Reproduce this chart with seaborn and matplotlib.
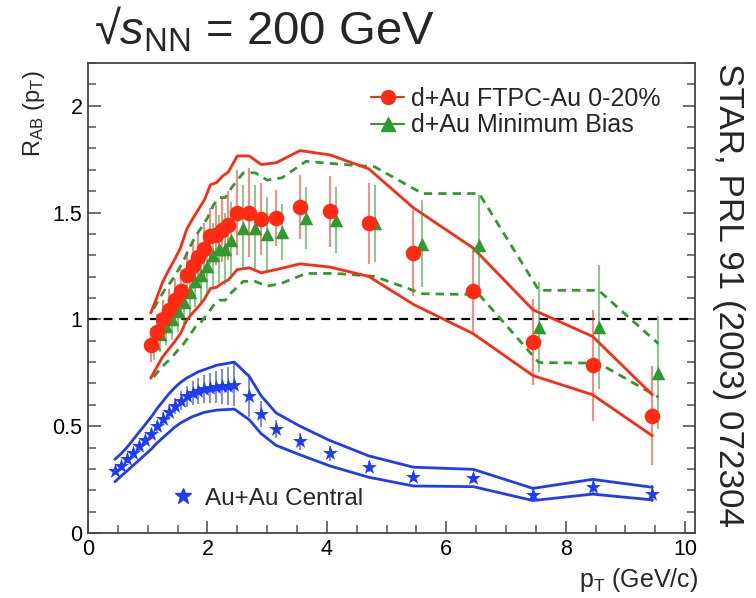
import numpy as np
import pandas as pd
import matplotlib
matplotlib.use("Agg")
import matplotlib.pyplot as plt
from matplotlib.lines import Line2D
from matplotlib.ticker import MultipleLocator, FuncFormatter
import seaborn as sns

# ---- d+Au FTPC-Au 0-20% central ----
dau_c_pt = [1.05, 1.15, 1.25, 1.35, 1.45, 1.55, 1.65, 1.75, 1.85, 1.95, 2.05, 2.15, 2.25,
            2.35, 2.5, 2.7, 2.9, 3.15, 3.55, 4.05, 4.7, 5.45, 6.45, 7.45, 8.45, 9.45]
dau_c_r = [0.88, 0.94, 1.00, 1.045, 1.09, 1.135, 1.21, 1.25, 1.29, 1.33, 1.39, 1.395, 1.42,
           1.44, 1.50, 1.50, 1.47, 1.475, 1.525, 1.505, 1.45, 1.31, 1.135, 0.895, 0.785, 0.55]
dau_c_err = [0.08, 0.085, 0.09, 0.095, 0.10, 0.10, 0.11, 0.11, 0.12, 0.12, 0.13, 0.14, 0.15,
             0.16, 0.20, 0.21, 0.17, 0.13, 0.15, 0.165, 0.19, 0.20, 0.20, 0.20, 0.26, 0.23]
dau_c_hi = [1.03, 1.10, 1.175, 1.23, 1.28, 1.335, 1.42, 1.47, 1.515, 1.56, 1.63, 1.64, 1.67,
            1.69, 1.765, 1.765, 1.725, 1.733, 1.79, 1.77, 1.705, 1.522, 1.334, 1.045, 0.92, 0.647]
dau_c_lo = [0.725, 0.775, 0.825, 0.86, 0.895, 0.935, 0.995, 1.03, 1.06, 1.095, 1.145, 1.15, 1.17,
            1.185, 1.233, 1.241, 1.218, 1.233, 1.26, 1.245, 1.201, 1.07, 0.933, 0.737, 0.647, 0.455]

# ---- d+Au minimum bias ----
dau_mb_pt = [1.1, 1.2, 1.3, 1.4, 1.5, 1.6, 1.7, 1.8, 1.9, 2.0, 2.1, 2.2, 2.3,
             2.4, 2.6, 2.8, 3.0, 3.25, 3.65, 4.15, 4.8, 5.6, 6.55, 7.55, 8.55, 9.55]
dau_mb_r = [0.89, 0.93, 0.97, 1.0, 1.04, 1.08, 1.13, 1.18, 1.21, 1.25, 1.30, 1.33, 1.33,
            1.37, 1.43, 1.43, 1.40, 1.41, 1.475, 1.465, 1.45, 1.355, 1.35, 0.965, 0.965, 0.75]
dau_mb_err = [0.08, 0.085, 0.09, 0.095, 0.10, 0.11, 0.11, 0.12, 0.13, 0.14, 0.15, 0.16, 0.17,
              0.18, 0.20, 0.20, 0.175, 0.13, 0.145, 0.155, 0.18, 0.205, 0.23, 0.21, 0.29, 0.265]
dau_mb_hi = [1.05, 1.10, 1.145, 1.18, 1.225, 1.275, 1.335, 1.39, 1.43, 1.475, 1.535, 1.57, 1.57,
             1.615, 1.686, 1.686, 1.652, 1.663, 1.74, 1.728, 1.714, 1.589, 1.589, 1.136, 1.136, 0.886]
dau_mb_lo = [0.73, 0.765, 0.795, 0.82, 0.855, 0.885, 0.925, 0.965, 0.99, 1.025, 1.065, 1.09, 1.09,
             1.125, 1.178, 1.178, 1.155, 1.17, 1.215, 1.215, 1.201, 1.12, 1.116, 0.798, 0.795, 0.636]

# ---- Au+Au central ----
auau_pt = [0.45, 0.55, 0.65, 0.75, 0.85, 0.95, 1.05, 1.15, 1.25, 1.35, 1.45, 1.55, 1.65, 1.75,
           1.85, 1.95, 2.05, 2.15, 2.25, 2.35, 2.45, 2.7, 2.9, 3.15, 3.55, 4.05, 4.7, 5.45,
           6.45, 7.45, 8.45, 9.45]
auau_r = [0.29, 0.315, 0.345, 0.375, 0.405, 0.435, 0.465, 0.50, 0.535, 0.565, 0.595, 0.62, 0.64,
          0.655, 0.665, 0.673, 0.678, 0.683, 0.686, 0.688, 0.694, 0.642, 0.558, 0.486, 0.43,
          0.373, 0.311, 0.264, 0.256, 0.178, 0.217, 0.183]
auau_err = [0.012, 0.013, 0.015, 0.017, 0.019, 0.021, 0.023, 0.026, 0.03, 0.034, 0.038, 0.043,
            0.05, 0.055, 0.06, 0.065, 0.07, 0.075, 0.08, 0.09, 0.10, 0.10, 0.06, 0.043, 0.04,
            0.035, 0.025, 0.02, 0.02, 0.025, 0.04, 0.04]
auau_hi = [0.345, 0.37, 0.40, 0.435, 0.47, 0.505, 0.54, 0.58, 0.615, 0.65, 0.68, 0.705, 0.725,
           0.74, 0.755, 0.765, 0.775, 0.785, 0.79, 0.795, 0.80, 0.733, 0.642, 0.562, 0.50,
           0.433, 0.361, 0.308, 0.298, 0.209, 0.251, 0.214]
auau_lo = [0.24, 0.265, 0.29, 0.315, 0.34, 0.365, 0.39, 0.42, 0.445, 0.47, 0.495, 0.515, 0.53,
           0.545, 0.555, 0.565, 0.57, 0.575, 0.577, 0.578, 0.58, 0.53, 0.465, 0.41, 0.366,
           0.314, 0.261, 0.22, 0.217, 0.152, 0.182, 0.155]

RED = "#ff2a12"
GREEN = "#2f9a2f"
BLUE = "#1f3cf5"

sns.set_theme(style="ticks")
plt.rcParams["font.family"] = ["Liberation Sans", "DejaVu Sans"]
plt.rcParams["mathtext.fontset"] = "custom"
plt.rcParams["mathtext.rm"] = "Liberation Sans"
plt.rcParams["mathtext.it"] = "Liberation Sans:italic"

fig = plt.figure(figsize=(7.56, 5.98), dpi=100)
ax = fig.add_axes([0.1164, 0.1087, 0.8026, 0.7859])

central = pd.DataFrame({"pt": dau_c_pt, "r": dau_c_r, "err": dau_c_err,
                        "hi": dau_c_hi, "lo": dau_c_lo})
minbias = pd.DataFrame({"pt": dau_mb_pt, "r": dau_mb_r, "err": dau_mb_err,
                        "hi": dau_mb_hi, "lo": dau_mb_lo})
auau = pd.DataFrame({"pt": auau_pt, "r": auau_r, "err": auau_err,
                     "hi": auau_hi, "lo": auau_lo})

# unity reference
ax.axhline(1.0, color="black", lw=1.6, ls=(0, (4, 3)), zorder=1)

# systematic bands
for col in ("hi", "lo"):
    sns.lineplot(data=auau, x="pt", y=col, ax=ax, color=BLUE, lw=2.0,
                 estimator=None, legend=False, zorder=2)
    sns.lineplot(data=minbias, x="pt", y=col, ax=ax, color=GREEN, lw=2.0,
                 estimator=None, legend=False, zorder=2)
    sns.lineplot(data=central, x="pt", y=col, ax=ax, color=RED, lw=2.0,
                 estimator=None, legend=False, zorder=3)
for ln in ax.lines:
    if ln.get_color() == GREEN:
        ln.set_linestyle((0, (3, 2.2)))

# statistical error bars
ax.errorbar(auau["pt"], auau["r"], yerr=auau["err"], fmt="none", ecolor=BLUE,
            elinewidth=1.2, alpha=0.7, zorder=4)
ax.errorbar(central["pt"], central["r"], yerr=central["err"], fmt="none", ecolor=RED,
            elinewidth=1.3, alpha=0.6, zorder=4)
ax.errorbar(minbias["pt"], minbias["r"], yerr=minbias["err"], fmt="none", ecolor=GREEN,
            elinewidth=1.3, alpha=0.6, zorder=4)

# data points
sns.scatterplot(data=auau, x="pt", y="r", ax=ax, marker="*", s=130, color=BLUE,
                edgecolor=BLUE, linewidth=0, zorder=5)
sns.scatterplot(data=minbias, x="pt", y="r", ax=ax, marker="^", s=95, color=GREEN,
                edgecolor=GREEN, linewidth=0, zorder=5)
sns.scatterplot(data=central, x="pt", y="r", ax=ax, marker="o", s=125, color=RED,
                edgecolor=RED, linewidth=0, zorder=6)

ax.set_xlim(0, 10.16)
ax.set_ylim(0, 2.2)
ax.xaxis.set_major_locator(MultipleLocator(2))
ax.xaxis.set_minor_locator(MultipleLocator(0.5))
ax.yaxis.set_major_locator(MultipleLocator(0.5))
ax.yaxis.set_minor_locator(MultipleLocator(0.1))
ax.yaxis.set_major_formatter(FuncFormatter(lambda v, p: f"{v:g}"))
ax.xaxis.set_major_formatter(FuncFormatter(lambda v, p: f"{v:g}"))
ax.tick_params(which="both", direction="in", left=True, right=True, top=False,
               bottom=True, labelsize=15.5, colors="#555555", labelcolor="black")
ax.tick_params(which="major", length=9, width=1.2, pad=4)
ax.tick_params(which="minor", length=6, width=1.1)
for sp in ax.spines.values():
    sp.set_visible(True)
    sp.set_linewidth(1.3)
    sp.set_color("#444444")

ax.set_xlabel(r"p$_{\mathrm{T}}$ (GeV/c)", fontsize=18, loc="right")
ax.set_ylabel(r"R$_{\mathrm{AB}}$ (p$_{\mathrm{T}}$)", fontsize=17, loc="top")
ax.xaxis.set_label_coords(1.005, -0.07)
ax.yaxis.set_label_coords(-0.068, 0.985)

# legends
h_c = Line2D([], [], color=RED, marker="o", markersize=10, lw=1.5)
h_mb = Line2D([], [], color=GREEN, marker="^", markersize=10, lw=1.5)
leg1 = ax.legend([h_c, h_mb], ["d+Au FTPC-Au 0-20%", "d+Au Minimum Bias"],
                 loc="upper left", bbox_to_anchor=(0.43, 0.997), frameon=False,
                 fontsize=18, handlelength=1.3, handletextpad=0.3, labelspacing=0.1)
ax.add_artist(leg1)
h_a = Line2D([], [], color=BLUE, marker="*", markersize=12, lw=0)
ax.legend([h_a], ["Au+Au Central"], loc="lower left", bbox_to_anchor=(0.10, 0.003),
          frameon=False, fontsize=17.5, handlelength=1.0, handletextpad=0.4)

fig.text(0.125, 0.95, "\u221a" + r"$\mathit{s}_{\mathrm{NN}}$ = 200 GeV", fontsize=34,
         ha="left", va="center")
fig.text(0.963, 0.507, "STAR, PRL 91 (2003) 072304", fontsize=25.3, rotation=-90,
         ha="center", va="center")

fig.savefig("out.png", dpi=100)
